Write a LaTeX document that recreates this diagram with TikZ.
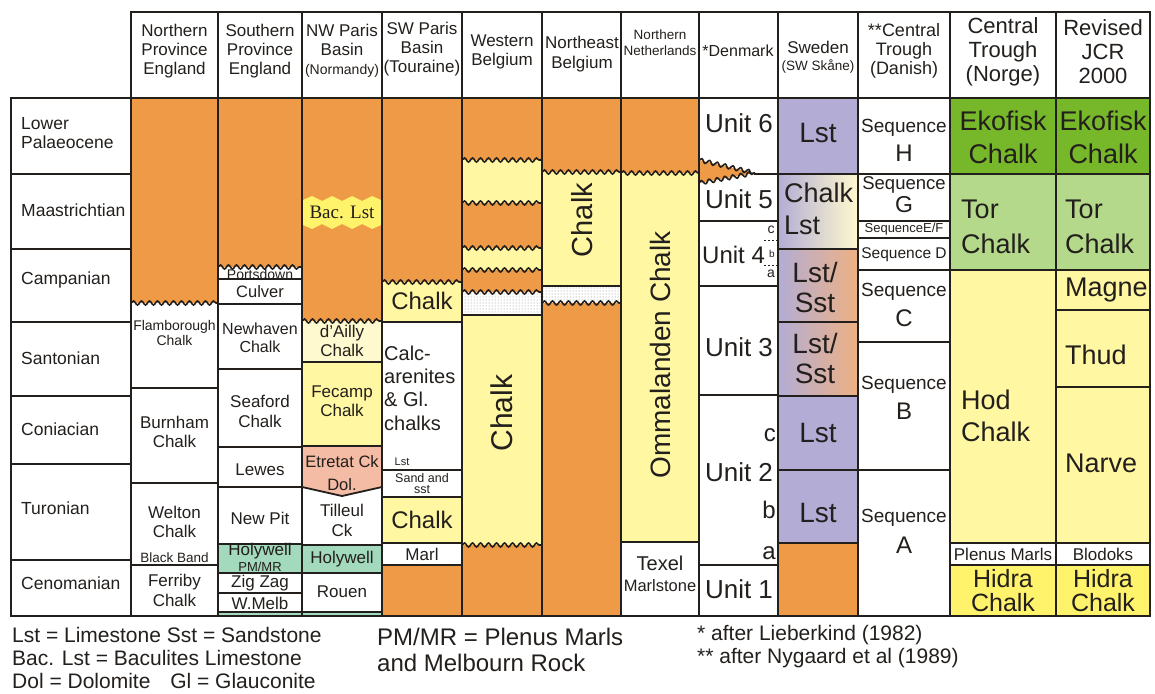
\documentclass[tikz,border=0pt]{standalone}
\usepackage{fontspec}
\setmainfont{Liberation Sans}
\newfontfamily\serifface{Liberation Serif}
\usetikzlibrary{decorations.pathmorphing,patterns}
\newcommand{\fsz}[2]{\fontsize{#1}{#2}\selectfont}
\definecolor{ink}{HTML}{231F1C}
\definecolor{org}{HTML}{EE9A47}
\definecolor{yel}{HTML}{FFF7A2}
\definecolor{lyel}{HTML}{FFF9CF}
\definecolor{hyel}{HTML}{FFF36C}
\definecolor{egrn}{HTML}{77B82A}
\definecolor{tgrn}{HTML}{B5D98B}
\definecolor{hgrn}{HTML}{A3D9BC}
\definecolor{salm}{HTML}{F4BBA5}
\definecolor{lav}{HTML}{B3ADD5}
\definecolor{pch}{HTML}{EEB183}
\begin{document}
\begin{tikzpicture}[x=1pt,y=-1pt,
  bd/.style={draw=ink,line width=1.8pt,line cap=rect},
  wv/.style={draw=ink,line width=1.6pt,decorate,decoration={snake,amplitude=2pt,segment length=8pt}},
  t/.style={text=ink,inner sep=0pt,align=center},
  tl/.style={text=ink,inner sep=0pt,align=left,anchor=west},
  tr/.style={text=ink,inner sep=0pt,anchor=east},
  rot/.style={text=ink,inner sep=0pt,rotate=90}]
\useasboundingbox (0,0) rectangle (1155,693);
\fill[white] (0,0) rectangle (1155,693);
% ---------- fills ----------
% col1
\fill[org] (131,98) rectangle (218,303);
% col2
\fill[org] (218,98) rectangle (302,267);
\fill[hgrn] (218,544) rectangle (302,573);
\fill[hgrn] (218,612) rectangle (302,616);
% col3
\fill[org] (302,98) rectangle (382,321);
\fill[lyel] (302,321) rectangle (382,362);
\fill[yel] (302,362) rectangle (382,446);
\fill[salm] (302,446) -- (382,446) -- (382,487) -- (342,496) -- (302,487) -- cycle;
\fill[hgrn] (302,545) rectangle (382,573);
\fill[hgrn] (302,612) rectangle (382,616);
\fill[hyel] (303,200) -- (312,196) -- (322,201) -- (332,196) -- (342,201) -- (352,196) -- (362,201) -- (372,196) -- (381,200)
  -- (381,225) -- (372,229) -- (362,224) -- (352,229) -- (342,224) -- (332,229) -- (322,224) -- (312,229) -- (303,225) -- cycle;
% col4
\fill[org] (382,98) rectangle (462,282);
\fill[yel] (382,282) rectangle (462,322);
\fill[yel] (382,497) rectangle (462,543);
\fill[org] (382,565) rectangle (462,616);
% col5
\fill[org] (462,98) rectangle (542,160);
\fill[yel] (462,160) rectangle (542,203);
\fill[org] (462,203) rectangle (542,248);
\fill[yel] (462,248) rectangle (542,270);
\fill[org] (462,270) rectangle (542,292);
\fill[pattern=dots,pattern color=black!45] (462,292) rectangle (542,315);
\fill[yel] (462,315) rectangle (542,545);
\fill[org] (462,545) rectangle (542,616);
% col6
\fill[org] (542,98) rectangle (621,172);
\fill[yel] (542,172) rectangle (621,286);
\fill[pattern=dots,pattern color=black!45] (542,286) rectangle (621,303);
\fill[org] (542,303) rectangle (621,616);
% col7
\fill[org] (621,98) rectangle (699,173);
\fill[yel] (621,173) rectangle (699,542);
% col8 wedge
\fill[org] (699,160) -- (755,173) -- (699,183) -- cycle;
% col9
\fill[lav] (778,98) rectangle (858,174);
\shade[left color=lav,right color=lyel] (778,174) rectangle (858,249);
\shade[left color=lav,right color=pch] (778,249) rectangle (858,322);
\shade[left color=lav,right color=pch] (778,322) rectangle (858,396);
\fill[lav] (778,396) rectangle (858,543);
\fill[org] (778,543) rectangle (858,616);
% col11, col12
\fill[egrn] (950,98) rectangle (1150,174);
\fill[tgrn] (950,174) rectangle (1150,270);
\fill[yel] (950,270) rectangle (1150,543);
\fill[hyel] (950,565) rectangle (1150,616);
% ---------- wavy boundaries ----------
\draw[wv] (131,303) -- (218,303);
\draw[wv] (218,267) -- (302,267);
\draw[wv] (302,321) -- (382,321);
\draw[wv] (382,282) -- (462,282);
\draw[wv] (462,160) -- (542,160);
\draw[wv] (462,203) -- (542,203);
\draw[wv] (462,248) -- (542,248);
\draw[wv] (462,270) -- (542,270);
\draw[wv] (462,292) -- (542,292);
\draw[wv] (462,545) -- (542,545);
\draw[wv] (542,172) -- (621,172);
\draw[wv] (542,303) -- (621,303);
\draw[wv] (621,173) -- (699,173);
\draw[wv] (699,160) -- (755,173);
\draw[wv] (699,183) -- (755,173);
% ---------- straight boundaries ----------
\foreach \y in {174,249,322,396,464,560} \draw[bd] (11,\y) -- (131,\y);
\foreach \y in {388,483,565} \draw[bd] (131,\y) -- (218,\y);
\foreach \y in {279,304,369,447,487,544,573,593,612} \draw[bd] (218,\y) -- (302,\y);
\foreach \y in {362,446,545,573,612} \draw[bd] (302,\y) -- (382,\y);
\draw[bd] (302,487) -- (342,496) -- (382,487);
\foreach \y in {322,470,497,543,565} \draw[bd] (382,\y) -- (462,\y);
\draw[draw=ink,line width=1.2pt] (462,315) -- (542,315);
\draw[draw=ink,line width=1.2pt] (542,286) -- (621,286);
\draw[bd] (621,542) -- (699,542);
\draw[bd] (755,174) -- (778,174);
\foreach \y in {221,286,395,565} \draw[bd] (699,\y) -- (778,\y);
\draw[ink,line width=0.8pt,dash pattern=on 2pt off 2pt] (764,240) -- (777,240);
\draw[ink,line width=0.8pt,dash pattern=on 2pt off 2pt] (764,265) -- (777,265);
\foreach \y in {174,249,322,396,470,543} \draw[bd] (778,\y) -- (858,\y);
\foreach \y in {174,221,238,270,342,470} \draw[bd] (858,\y) -- (950,\y);
\foreach \y in {174,270,543,565} \draw[bd] (950,\y) -- (1150,\y);
\foreach \y in {310,387} \draw[bd] (1056,\y) -- (1150,\y);
% verticals and frame
\foreach \x in {131,218,302,382,462,542,621,699,778,858,950,1056,1150} \draw[bd] (\x,12) -- (\x,616);
\draw[bd] (131,12) -- (1150,12);
\draw[bd] (11,98) -- (1150,98);
\draw[bd] (11,616) -- (1150,616);
\draw[bd] (11,98) -- (11,616);
% ---------- header texts ----------
\node[t,font=\fsz{17}{19}] (h1) at (174.5,51) {Northern\\Province\\England};
\node[t,font=\fsz{17}{19}] (h2) at (260,51) {Southern\\Province\\England};
\node[t,font=\fsz{17}{19}] (h3) at (342,51) {NW Paris\\Basin\\{\fsz{14}{19}(Normandy)}};
\node[t,font=\fsz{17}{19}] (h4) at (422,49) {SW Paris\\Basin\\(Touraine)};
\node[t,font=\fsz{17}{19}] (h5) at (502,52) {Western\\Belgium};
\node[t,font=\fsz{17}{20}] (h6) at (582,54) {Northeast\\Belgium};
\node[t,font=\fsz{13.5}{16}] (h7) at (660,43) {Northern\\Netherlands};
\node[t,font=\fsz{16}{19}] (h8) at (738,51) {*Denmark};
\node[t,font=\fsz{17}{17}] (h9) at (818,57) {Sweden\\{\fsz{13.5}{17}(SW Skåne)}};
\node[t,font=\fsz{18}{19}] (h10) at (904,51) {**Central\\Trough\\(Danish)};
\node[t,font=\fsz{22}{24}] (h11) at (1003,52) {Central\\Trough\\(Norge)};
\node[t,font=\fsz{22}{24}] (h12) at (1103,52) {Revised\\JCR\\2000};
% ---------- stages ----------
\node[tl,font=\fsz{17.5}{19}] (s1) at (21,133) {Lower\\Palaeocene};
\node[tl,font=\fsz{17.5}{19}] (s2) at (21,210) {Maastrichtian};
\node[tl,font=\fsz{17.5}{19}] (s3) at (21,280) {Campanian};
\node[tl,font=\fsz{17.5}{19}] (s4) at (21,358) {Santonian};
\node[tl,font=\fsz{17.5}{19}] (s5) at (21,429) {Coniacian};
\node[tl,font=\fsz{17.5}{19}] (s6) at (21,508) {Turonian};
\node[tl,font=\fsz{17.5}{19}] (s7) at (21,583) {Cenomanian};
% ---------- col1 ----------
\node[t,font=\fsz{14}{15}] (c1a) at (174.5,333) {Flamborough\\Chalk};
\node[t,font=\fsz{17}{19}] (c1b) at (174.5,432) {Burnham\\Chalk};
\node[t,font=\fsz{17}{19}] (c1c) at (174.5,522) {Welton\\Chalk};
\node[t,font=\fsz{13.5}{15}] (c1d) at (174.5,558) {Black Band};
\node[t,font=\fsz{17}{20}] (c1e) at (174.5,590) {Ferriby\\Chalk};
% ---------- col2 ----------
\node[t,font=\fsz{14}{15}] (c2a) at (260,274) {Portsdown};
\node[t,font=\fsz{16.5}{18}] (c2b) at (260,292) {Culver};
\node[t,font=\fsz{16}{18}] (c2c) at (260,338) {Newhaven\\Chalk};
\node[t,font=\fsz{17}{20}] (c2d) at (260,411) {Seaford\\Chalk};
\node[t,font=\fsz{17}{19}] (c2e) at (260,470) {Lewes};
\node[t,font=\fsz{17}{19}] (c2f) at (260,518) {New Pit};
\node[t,font=\fsz{17}{19}] (c2g) at (260,551) {Holywell};
\node[t,font=\fsz{13}{15}] (c2h) at (260,567) {PM/MR};
\node[t,font=\fsz{17}{19}] (c2i) at (260,583) {Zig Zag};
\node[t,font=\fsz{17}{19}] (c2j) at (260,603) {W.Melb};
% ---------- col3 ----------
\node[t,font=\serifface\fsz{19}{20}] (c3a) at (342,212) {Bac. Lst};
\node[t,font=\fsz{17}{19}] (c3b) at (342,341) {d'Ailly\\Chalk};
\node[t,font=\fsz{17}{19}] (c3c) at (342,401) {Fecamp\\Chalk};
\node[t,font=\fsz{16.5}{23}] (c3d) at (342,473) {Etretat Ck\\Dol.};
\node[t,font=\fsz{17}{20}] (c3e) at (342,520) {Tilleul\\Ck};
\node[t,font=\fsz{17}{19}] (c3f) at (342,559) {Holywell};
\node[t,font=\fsz{17}{19}] (c3g) at (342,592) {Rouen};
% ---------- col4 ----------
\node[t,font=\fsz{24}{26}] (c4a) at (422,301) {Chalk};
\node[tl,font=\fsz{20}{23.3}] (c4b) at (384,388) {Calc-\\arenites\\\& Gl.\\chalks};
\node[t,font=\fsz{11}{12}] (c4c) at (402,462) {Lst};
\node[t,font=\fsz{12.5}{11}] (c4d) at (422,484) {Sand and\\sst};
\node[t,font=\fsz{24}{26}] (c4e) at (422,520) {Chalk};
\node[t,font=\fsz{17}{19}] (c4f) at (422,554) {Marl};
% ---------- col5-7 ----------
\node[rot,font=\fsz{30}{30}] (c5a) at (502,413) {Chalk};
\node[rot,font=\fsz{29}{29}] (c6a) at (582,220) {Chalk};
\node[rot,font=\fsz{28}{28}] (c7a) at (660,355) {Ommalanden Chalk};
\node[t,font=\fsz{20}{22}] (c7b) at (660,563) {Texel};
\node[t,font=\fsz{16.5}{18}] (c7c) at (660,586) {Marlstone};
% ---------- col8 Denmark ----------
\node[t,font=\fsz{26}{28}] (c8a) at (739,123) {Unit 6};
\node[t,font=\fsz{26}{28}] (c8b) at (739,199) {Unit 5};
\node[tl,font=\fsz{24}{26}] (c8c) at (702,255) {Unit 4};
\node[t,font=\fsz{14}{15}] (c8d) at (771,230) {c};
\node[t,font=\fsz{10}{11}] (c8e) at (772,254) {b};
\node[t,font=\fsz{14}{15}] (c8f) at (771,274) {a};
\node[t,font=\fsz{26}{28}] (c8g) at (739,347) {Unit 3};
\node[tr,font=\fsz{24}{26}] (c8h) at (776,435) {c};
\node[t,font=\fsz{26}{28}] (c8i) at (739,472) {Unit 2};
\node[tr,font=\fsz{24}{26}] (c8j) at (776,510) {b};
\node[tr,font=\fsz{24}{26}] (c8k) at (776,553) {a};
\node[t,font=\fsz{26}{28}] (c8l) at (739,589) {Unit 1};
% ---------- col9 Sweden ----------
\node[t,font=\fsz{28}{30}] (c9a) at (818,133) {Lst};
\node[tl,font=\fsz{27}{32}] (c9b) at (784,209) {Chalk\\Lst};
\node[t,font=\fsz{28}{30}] (c9c) at (815,287) {Lst/\\Sst};
\node[t,font=\fsz{28}{30}] (c9d) at (815,358) {Lst/\\Sst};
\node[t,font=\fsz{28}{30}] (c9e) at (818,433) {Lst};
\node[t,font=\fsz{28}{30}] (c9f) at (818,513) {Lst};
% ---------- col10 Central Trough (Danish) ----------
\node[t,font=\fsz{19}{20}] (c10a) at (904,128) {Sequence};
\node[t,font=\fsz{24}{26}] (c10b) at (904,153) {H};
\node[t,font=\fsz{18.5}{20}] (c10c) at (904,185) {Sequence};
\node[t,font=\fsz{23}{26}] (c10d) at (904,205) {G};
\node[t,font=\fsz{13}{14}] (c10e) at (904,229.5) {SequenceE/F};
\node[t,font=\fsz{15.5}{17}] (c10f) at (904,255) {Sequence D};
\node[t,font=\fsz{19}{20}] (c10g) at (904,292) {Sequence};
\node[t,font=\fsz{24}{26}] (c10h) at (904,318) {C};
\node[t,font=\fsz{19}{20}] (c10i) at (904,385) {Sequence};
\node[t,font=\fsz{24}{26}] (c10j) at (904,411) {B};
\node[t,font=\fsz{19}{20}] (c10k) at (904,518) {Sequence};
\node[t,font=\fsz{24}{26}] (c10l) at (904,545) {A};
% ---------- col11 Norge ----------
\node[t,font=\fsz{27}{33}] (c11a) at (1003,137) {Ekofisk\\Chalk};
\node[tl,font=\fsz{27}{35}] (c11b) at (961,227) {Tor\\Chalk};
\node[tl,font=\fsz{27}{32}] (c11c) at (961,416) {Hod\\Chalk};
\node[t,font=\fsz{17}{19}] (c11d) at (1003,554) {Plenus Marls};
\node[t,font=\fsz{25}{24}] (c11e) at (1003,591) {Hidra\\Chalk};
% ---------- col12 Revised ----------
\node[t,font=\fsz{27}{33}] (c12a) at (1103,137) {Ekofisk\\Chalk};
\node[tl,font=\fsz{27}{35}] (c12b) at (1065,227) {Tor\\Chalk};
\node[tl,font=\fsz{27}{29}] (c12c) at (1065,290) {Magne};
\node[tl,font=\fsz{27}{29}] (c12d) at (1065,355) {Thud};
\node[tl,font=\fsz{27}{29}] (c12e) at (1065,463) {Narve};
\node[t,font=\fsz{17}{19}] (c12f) at (1103,554) {Blodoks};
\node[t,font=\fsz{25}{24}] (c12g) at (1103,591) {Hidra\\Chalk};
% ---------- footer ----------
\node[tl,font=\fsz{21}{23}] (f1) at (12,658) {Lst = Limestone Sst = Sandstone\\Bac. Lst = Baculites Limestone\\Dol = Dolomite\hspace{14pt} Gl = Glauconite};
\node[tl,font=\fsz{24}{26}] (f2) at (377,650) {PM/MR = Plenus Marls\\and Melbourn Rock};
\node[tl,font=\fsz{21}{23}] (f3) at (697,647) {* after Lieberkind (1982)\\** after Nygaard et al (1989)};
\end{tikzpicture}
\end{document}
